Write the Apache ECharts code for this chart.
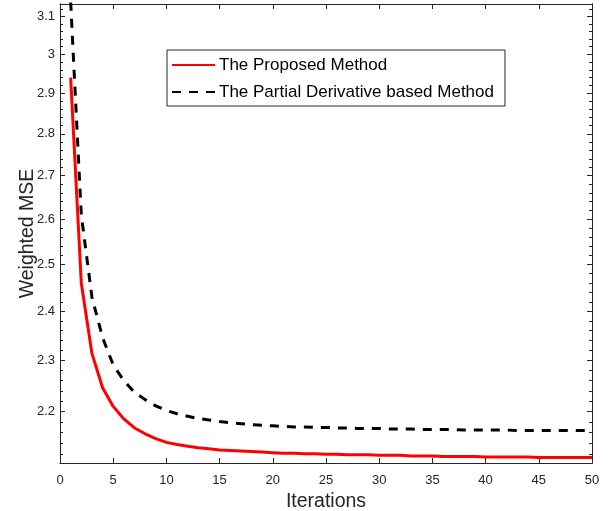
<!DOCTYPE html>
<html>
<head>
<meta charset="utf-8">
<script src="https://cdn.jsdelivr.net/npm/echarts@6/dist/echarts.min.js"></script>
<style>
  html, body { margin: 0; padding: 0; background: #fff; }
  #chart { width: 608px; height: 511px; }
</style>
</head>
<body>
<div id="chart"></div>
<script>
const iterations = [1, 2, 3, 4, 5, 6, 7, 8, 9, 10, 11, 12, 13, 14, 15, 16, 17, 18, 19, 20,
  21, 22, 23, 24, 25, 26, 27, 28, 29, 30, 31, 32, 33, 34, 35, 36, 37, 38, 39, 40,
  41, 42, 43, 44, 45, 46, 47, 48, 49, 50];
const proposed = [2.940, 2.460, 2.314, 2.246, 2.210, 2.186, 2.169, 2.158, 2.149, 2.142,
  2.138, 2.135, 2.132, 2.130, 2.128, 2.127, 2.126, 2.125, 2.124, 2.123,
  2.122, 2.122, 2.121, 2.121, 2.120, 2.120, 2.119, 2.119, 2.119, 2.118,
  2.118, 2.118, 2.117, 2.117, 2.117, 2.116, 2.116, 2.116, 2.116, 2.115,
  2.115, 2.115, 2.115, 2.115, 2.114, 2.114, 2.114, 2.114, 2.114, 2.114];
const partial = [3.140, 2.610, 2.430, 2.346, 2.291, 2.260, 2.237, 2.223, 2.211, 2.202,
  2.196, 2.191, 2.187, 2.184, 2.181, 2.179, 2.177, 2.175, 2.174, 2.173,
  2.172, 2.171, 2.171, 2.170, 2.170, 2.169, 2.169, 2.168, 2.168, 2.168,
  2.167, 2.167, 2.167, 2.166, 2.166, 2.166, 2.166, 2.165, 2.165, 2.165,
  2.165, 2.165, 2.164, 2.164, 2.164, 2.164, 2.164, 2.164, 2.164, 2.164];
const yMajorTicks = [2.2, 2.3, 2.4, 2.5, 2.6, 2.7, 2.8, 2.9, 3.0, 3.1];
const yMinorTicks = [2.12, 2.14, 2.16, 2.18, 2.22, 2.24, 2.26, 2.28, 2.32, 2.34, 2.36, 2.38,
  2.42, 2.44, 2.46, 2.48, 2.52, 2.54, 2.56, 2.58, 2.62, 2.64, 2.66, 2.68,
  2.72, 2.74, 2.76, 2.78, 2.82, 2.84, 2.86, 2.88, 2.92, 2.94, 2.96, 2.98,
  3.02, 3.04, 3.06, 3.08, 3.12];
const seriesNames = ['The Proposed Method', 'The Partial Derivative based Method'];

const AX = '#262626';
const FONT = 'Liberation Sans, Arial, sans-serif';
const Y_MIN = 2.104, Y_MAX = 3.134;

const chart = echarts.init(document.getElementById('chart'));

const xBase = {
  type: 'value', min: 0, max: 50, interval: 5,
  axisLine: { show: true, lineStyle: { color: AX, width: 1 } },
  axisTick: { show: true, inside: true, length: 5, lineStyle: { color: AX } },
  splitLine: { show: false }
};
const yBase = (pos, ticks, len, labels) => ({
  type: 'log', logBase: 10, min: Y_MIN, max: Y_MAX, position: pos,
  axisLine: { show: true, lineStyle: { color: AX, width: 1 } },
  axisTick: { show: true, inside: true, length: len, customValues: ticks, lineStyle: { color: AX } },
  axisLabel: labels
    ? { show: true, customValues: ticks, color: AX, fontSize: 13, fontFamily: FONT, margin: 5,
        formatter: v => String(Math.round(v * 10) / 10) }
    : { show: false },
  splitLine: { show: false },
  minorTick: { show: false }
});

chart.setOption({
  animation: false,
  backgroundColor: '#fff',
  grid: { left: 60, right: 16, top: 4, bottom: 48, containLabel: false, outerBoundsMode: 'none' },
  legend: {
    orient: 'vertical',
    left: 167, top: 50,
    padding: [5, 11, 4, 4],
    itemGap: 7,
    itemWidth: 43, itemHeight: 14,
    borderColor: AX, borderWidth: 1,
    backgroundColor: '#fff',
    itemStyle: { opacity: 0 },
    textStyle: { color: '#000', fontSize: 17, fontFamily: FONT, lineHeight: 20, padding: [0, 0, 0, -1] },
    data: seriesNames
  },
  xAxis: [
    Object.assign({}, xBase, {
      position: 'bottom',
      axisLabel: { color: AX, fontSize: 13, fontFamily: FONT, margin: 11 },
      name: 'Iterations', nameLocation: 'middle', nameGap: 29, nameMoveOverlap: false,
      nameTextStyle: { color: AX, fontSize: 19.5, fontFamily: FONT }
    }),
    Object.assign({}, xBase, { position: 'top', axisLabel: { show: false } })
  ],
  yAxis: [
    Object.assign(yBase('left', yMajorTicks, 5, true), {
      name: 'Weighted MSE', nameLocation: 'middle', nameGap: 22, nameMoveOverlap: false,
      nameTextStyle: { color: AX, fontSize: 19.5, fontFamily: FONT }
    }),
    yBase('left', yMinorTicks, 3, false),
    yBase('right', yMajorTicks, 5, false),
    yBase('right', yMinorTicks, 3, false)
  ],
  series: [
    {
      name: seriesNames[0], type: 'line', symbol: 'none', clip: true,
      xAxisIndex: 0, yAxisIndex: 0,
      lineStyle: { color: '#ff0000', width: 3 },
      itemStyle: { color: '#ff0000' },
      data: iterations.map((it, i) => [it, proposed[i]])
    },
    {
      name: seriesNames[1], type: 'line', symbol: 'none', clip: true,
      xAxisIndex: 0, yAxisIndex: 0,
      lineStyle: { color: '#000000', width: 3, type: [9, 8] },
      itemStyle: { color: '#000000' },
      data: iterations.map((it, i) => [it, partial[i]])
    }
  ]
});
</script>
</body>
</html>
